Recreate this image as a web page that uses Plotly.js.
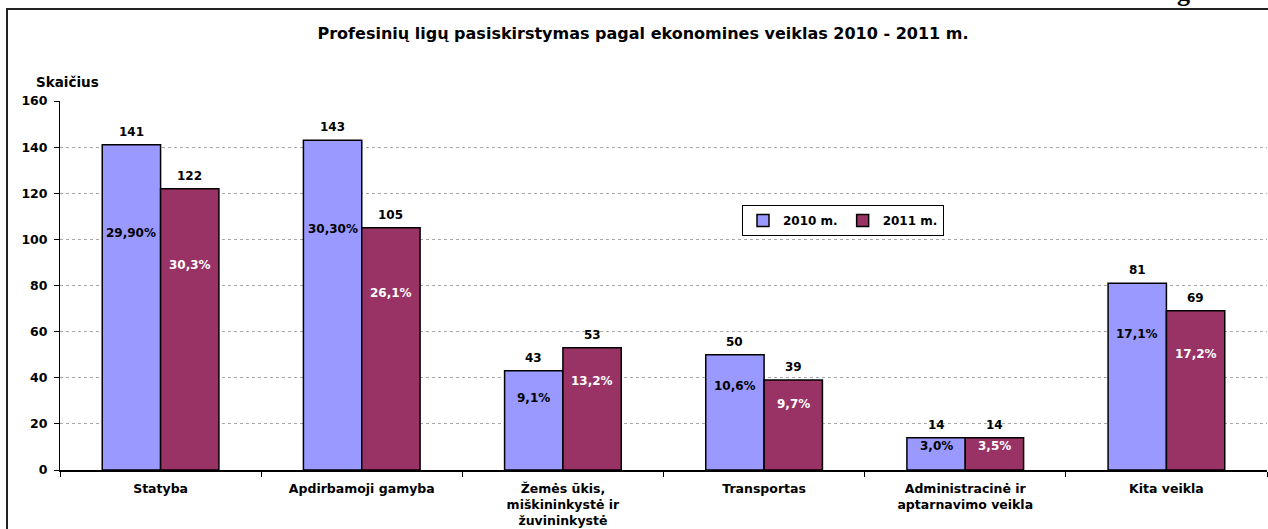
<!DOCTYPE html>
<html>
<head>
<meta charset="utf-8">
<script src="https://cdn.plot.ly/plotly-3.0.1.min.js"></script>
<style>html,body{margin:0;padding:0;background:#fff;}#chart{width:1268px;height:529px;}</style>
</head>
<body>
<div id="chart"></div>
<script>
// ---- data ----
const categories = ['Statyba', 'Apdirbamoji gamyba', 'Žemės ūkis,<br>miškininkystė ir<br>žuvininkystė', 'Transportas', 'Administracinė ir<br>aptarnavimo veikla', 'Kita veikla'];
const seriesNames = ['2010 m.', '2011 m.'];
const values2010 = [141, 143, 43, 50, 14, 81];
const values2011 = [122, 105, 53, 39, 14, 69];
const pct2010 = ['29,90%', '30,30%', '9,1%', '10,6%', '3,0%', '17,1%'];
const pct2011 = ['30,3%', '26,1%', '13,2%', '9,7%', '3,5%', '17,2%'];
const yTickVals = [0, 20, 40, 60, 80, 100, 120, 140, 160];
const chartTitle = 'Profesinių ligų pasiskirstymas pagal ekonomines veiklas 2010 - 2011 m.';
const yLabel = 'Skaičius';

// ---- styles ----
const FONT = 'DejaVu Sans, Verdana, sans-serif';
const C2010 = '#9999FF', C2011 = '#993366';
const W = 1268, H = 529, L = 60, R = 1, T = 101, B = 59;
const pw = W - L - R, ph = H - T - B;
const px = x => (x - L) / pw;
const py = y => (H - B - y) / ph;
const bargap = 0.42;
const half = (1 - bargap) / 4; // centre offset of each bar in category units
const pctPos = 0.73;

const traces = [
  {type: 'bar', name: seriesNames[0], x: categories, y: values2010,
   marker: {color: C2010, line: {color: '#000', width: 1.5}}, hoverinfo: 'none'},
  {type: 'bar', name: seriesNames[1], x: categories, y: values2011,
   marker: {color: C2011, line: {color: '#000', width: 1.5}}, hoverinfo: 'none'}
];

const ann = [];
const lblFont = c => ({family: FONT, size: 12, color: c, weight: 'bold'});
categories.forEach((c, i) => {
  [[values2010, pct2010, -half, '#000'], [values2011, pct2011, half, '#fff']].forEach(([vals, pcts, off, pc]) => {
    ann.push({xref: 'x', yref: 'y', x: i + off, y: vals[i], text: String(vals[i]), showarrow: false,
      yanchor: 'bottom', yshift: 4, font: lblFont('#000')});
    ann.push({xref: 'x', yref: 'y', x: i + off, y: vals[i] * pctPos, text: pcts[i], showarrow: false,
      yanchor: 'middle', font: lblFont(pc)});
  });
});
ann.push({xref: 'paper', yref: 'paper', x: px(34), y: py(82), xanchor: 'left', yanchor: 'middle',
  text: yLabel, showarrow: false, font: {family: FONT, size: 13.5, color: '#000', weight: 'bold'}});
ann.push({xref: 'paper', yref: 'paper', x: px(1183), y: py(9), xanchor: 'center', yanchor: 'bottom',
  text: 'g', showarrow: false, font: {family: 'Liberation Serif, serif', size: 26, color: '#000', weight: 'bold'}});

const layout = {
  width: W, height: H,
  margin: {l: L, r: R, t: T, b: B, pad: 0},
  paper_bgcolor: '#fff', plot_bgcolor: '#fff',
  barmode: 'group', bargap: bargap, bargroupgap: 0,
  title: {text: chartTitle, x: px(643), xref: 'paper', xanchor: 'center', y: 1 - 33 / H, yref: 'container', yanchor: 'middle',
    font: {family: FONT, size: 16, color: '#000', weight: 'bold'}},
  xaxis: {type: 'category', showline: true, linecolor: '#000', linewidth: 1.5, showgrid: false,
    tickson: 'boundaries', ticks: 'outside', ticklen: 5, tickcolor: '#000', tickwidth: 1, ticklabelstandoff: 6,
    tickfont: {family: FONT, size: 12.5, color: '#000', weight: 'bold'}, fixedrange: true},
  yaxis: {range: [0, 160], tickvals: yTickVals, showline: true, linecolor: '#000', linewidth: 1,
    ticks: 'outside', ticklen: 5, tickcolor: '#000', showgrid: true, gridcolor: '#a8a8a8', griddash: 'dot', gridwidth: 1,
    zeroline: false, ticklabelstandoff: 4,
    tickfont: {family: FONT, size: 12.5, color: '#000', weight: 'bold'}, fixedrange: true},
  legend: {orientation: 'h', x: px(742), y: py(205), xanchor: 'left', yanchor: 'top',
    bordercolor: '#000', borderwidth: 1, bgcolor: '#fff', itemwidth: 30, tracegroupgap: 0,
    font: {family: FONT, size: 12, color: '#000', weight: 'bold'}},
  annotations: ann,
  shapes: [{type: 'rect', xref: 'paper', yref: 'paper', x0: px(7), x1: px(1290), y0: py(560), y1: py(9),
    line: {color: '#222', width: 2}, fillcolor: 'rgba(0,0,0,0)', layer: 'below'}],
  showlegend: true
};

Plotly.newPlot('chart', traces, layout, {staticPlot: true, displayModeBar: false});
</script>
</body>
</html>
